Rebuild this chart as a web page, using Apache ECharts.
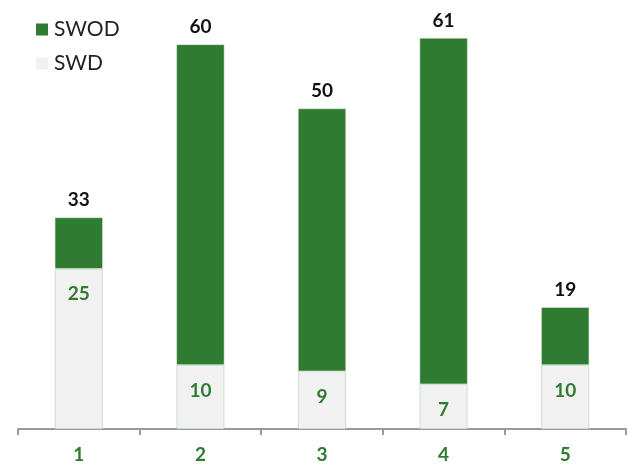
<!DOCTYPE html>
<html>
<head>
<meta charset="utf-8">
<script src="https://cdn.jsdelivr.net/npm/echarts@6/dist/echarts.min.js"></script>
<style>
  html, body { margin: 0; padding: 0; background: #ffffff; }
  #chart { width: 628px; height: 466px; }
</style>
</head>
<body>
<div id="chart"></div>
<script>
// Categories and stacked values
const categories = ['1', '2', '3', '4', '5'];
const swdValues = [25, 10, 9, 7, 10];
const swodValues = [8, 50, 41, 54, 9];

const GREEN = '#2e7b31';
const LIGHT = '#f1f1f1';
const FONT = 'Lato, "DejaVu Sans", sans-serif';

const totals = swdValues.map((v, i) => v + swodValues[i]);

const chart = echarts.init(document.getElementById('chart'));
chart.setOption({
  animation: false,
  textStyle: { fontFamily: FONT },
  legend: {
    orient: 'vertical',
    left: 31,
    top: 14,
    itemWidth: 12,
    itemHeight: 12,
    itemGap: 13,
    icon: 'rect',
    itemStyle: { borderWidth: 0 },
    data: ['SWOD', 'SWD'],
    textStyle: { fontSize: 21, color: '#222', fontFamily: FONT, padding: [0, 0, 0, 1] }
  },
  grid: { left: 18, right: 2, top: 38, bottom: 37 },
  xAxis: {
    type: 'category',
    data: categories,
    axisLine: { lineStyle: { color: '#9a9a9a', width: 2 } },
    axisTick: { show: true, length: 6, lineStyle: { color: '#9a9a9a', width: 2 } },
    axisLabel: { color: GREEN, fontWeight: 'bold', fontSize: 19, margin: 16, fontFamily: FONT }
  },
  yAxis: {
    type: 'value',
    min: 0,
    max: 61,
    show: false,
    splitLine: { show: false }
  },
  series: [
    {
      name: 'SWD',
      type: 'bar',
      stack: 'total',
      data: swdValues,
      barWidth: 48,
      itemStyle: { color: LIGHT, borderColor: '#c9dfc9', borderWidth: 1 },
      label: {
        show: true,
        position: 'insideTop',
        distance: 16,
        color: GREEN,
        fontWeight: 'bold',
        fontSize: 19,
        fontFamily: FONT
      }
    },
    {
      name: 'SWOD',
      type: 'bar',
      stack: 'total',
      data: swodValues,
      barWidth: 48,
      itemStyle: { color: GREEN, borderColor: '#e8f0e8', borderWidth: 0.5 },
      label: {
        show: true,
        position: 'top',
        distance: 8,
        color: '#111',
        fontWeight: 'bold',
        fontSize: 19,
        fontFamily: FONT,
        formatter: p => String(totals[p.dataIndex])
      }
    }
  ]
});
</script>
</body>
</html>
